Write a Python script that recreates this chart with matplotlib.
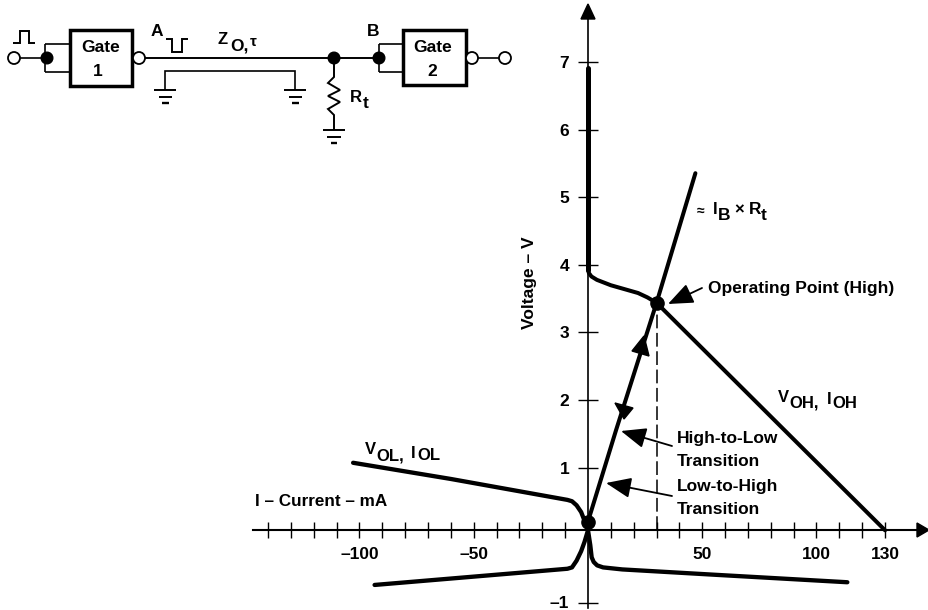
import numpy as np
import matplotlib
matplotlib.use('Agg')
import matplotlib.pyplot as plt
from matplotlib.patches import Circle, Rectangle, Polygon

plt.rcParams['font.family'] = ['Liberation Sans', 'DejaVu Sans']
plt.rcParams['font.weight'] = 'bold'

# curves, current in mA, voltage in V
vol_i = [-102.8, -60, -9, -7, -5, -3, -1.5, 0, 1.0, 1.6, 2.5, 4, 6.6, 15, 56, 113.5]
vol_v = [1.07, 0.83, 0.52, 0.50, 0.44, 0.34, 0.21, 0.07, -0.15, -0.33, -0.40, -0.45, -0.48, -0.51, -0.59, -0.70]
low_i = [-93.4, -9, -7, -5, -3, -1.5, 0, 0]
low_v = [-0.74, -0.50, -0.48, -0.38, -0.24, -0.10, 0.07, 0.2]
voh_i = [0, 0, 0.4, 1.5, 3.9, 10, 21.9, 26, 30, 130]
voh_v = [6.92, 3.93, 3.88, 3.83, 3.78, 3.70, 3.585, 3.52, 3.44, 0.07]
load_i = [0, 12.3, 30, 47]
load_v = [0.2, 1.556, 3.44, 5.36]
op_i, op_v = 30, 3.44
axis_v = 0.07

x_ticks = list(range(-140, 131, 10))
x_labels = {-100: '–100', -50: '–50', 50: '50', 100: '100', 130: '130'}
y_ticks = [-1, 1, 2, 3, 4, 5, 6, 7]
y_labels = ['–1', '1', '2', '3', '4', '5', '6', '7']

W, H = 929, 610
fig = plt.figure(figsize=(9.29, 6.1), dpi=100)

# chart axes fill the figure, scale 2.285 px/mA and 67.5 px/V
ax = fig.add_axes([0, 0, 1, 1])
ax.patch.set_alpha(0)
ax.set_xlim(-588 / 2.285, (W - 588) / 2.285)
ax.set_ylim((535 - H) / 67.5, 535 / 67.5)
for s in ['top', 'right']:
    ax.spines[s].set_visible(False)
ax.spines['left'].set_position(('data', 0))
ax.spines['bottom'].set_position(('data', axis_v))
ax.spines['left'].set_bounds((535 - 608) / 67.5, (535 - 15) / 67.5)
ax.spines['bottom'].set_bounds((253 - 588) / 2.285, (920 - 588) / 2.285)
ax.spines['left'].set_linewidth(1.2)
ax.spines['bottom'].set_linewidth(1.5)
ax.set_xticks(x_ticks)
ax.set_xticklabels([x_labels.get(t, '') for t in x_ticks])
ax.set_yticks(y_ticks)
ax.set_yticklabels(y_labels)
ax.tick_params(axis='x', direction='inout', length=11.5, width=1.0, pad=6, labelsize=12.5)
ax.tick_params(axis='y', direction='inout', length=15, width=1.0, pad=6, labelsize=12.5)

ax.plot(vol_i, vol_v, color='black', lw=3.1, solid_capstyle='round', solid_joinstyle='round')
ax.plot(low_i, low_v, color='black', lw=3.1, solid_capstyle='round', solid_joinstyle='round')
ax.plot(voh_i[:2], voh_v[:2], color='black', lw=3.6, solid_capstyle='round')
ax.plot(voh_i[1:], voh_v[1:], color='black', lw=2.9, solid_capstyle='round', solid_joinstyle='round')
ax.plot(load_i, load_v, color='black', lw=2.9, solid_capstyle='round')
ax.plot([op_i, op_i], [axis_v, op_v], color='black', lw=1.1, dashes=(9, 3))
ax.plot([op_i, 0], [op_v, 0.2], ls='none', marker='o', ms=9.5, color='black')

# overlay in pixels for schematic and notes
ov = fig.add_axes([0, 0, 1, 1])
ov.set_xlim(0, W)
ov.set_ylim(H, 0)
ov.axis('off')


def line(xs, ys, lw=1.2):
    ov.plot(xs, ys, color='black', lw=lw, solid_capstyle='butt', solid_joinstyle='miter')


def bubble(x, y):
    ov.add_patch(Circle((x, y), 6, fc='white', ec='black', lw=1.3, zorder=4))


def dot(x, y):
    ov.add_patch(Circle((x, y), 5.8, fc='black', ec='black', zorder=4))


def ground(x, y, w=11):
    line([x - w, x + w], [y, y], 1.4)
    line([x - w * 0.6, x + w * 0.6], [y + 7, y + 7], 1.4)
    line([x - w * 0.3, x + w * 0.3], [y + 13, y + 13], 1.7)


def label(x, y, s, size=12.5, **kw):
    ov.text(x, y, s, fontsize=size, va='center', ha=kw.pop('ha', 'left'), **kw)


def note(x0, y0, x1, y1):
    ov.annotate('', xy=(x1, y1), xytext=(x0, y0),
                arrowprops=dict(arrowstyle='-|>,head_length=1.1,head_width=0.45', color='black',
                                lw=1.3, shrinkA=0, shrinkB=0, mutation_scale=14))


# arrow tips of the axes
ov.add_patch(Polygon([[929, 530], [917, 523], [917, 537]], fc='black', ec='black'))
ov.add_patch(Polygon([[588, 4], [581, 19], [595, 19]], fc='black', ec='black'))

# direction heads on the load line
ov.add_patch(Polygon([[644, 336], [632, 351], [649, 356]], fc='black', ec='black'))
ov.add_patch(Polygon([[624, 419], [615, 403], [633, 408]], fc='black', ec='black'))

# schematic
line([14, 47], [58, 58])
line([45, 70], [44, 44])
line([45, 45], [44, 72])
line([45, 70], [72, 72])
ov.add_patch(Rectangle((70, 30), 62, 56, fc='white', ec='black', lw=2.5, zorder=3))
bubble(14, 58)
dot(47, 58)
bubble(139, 58)
line([145, 379], [58, 58], 1.4)
line([379, 403], [44, 44])
line([379, 379], [44, 72])
line([379, 403], [72, 72])
ov.add_patch(Rectangle((403, 30), 63, 55, fc='white', ec='black', lw=2.5, zorder=3))
dot(334, 58)
dot(379, 58)
bubble(472, 58)
line([478, 500], [58, 58])
bubble(505, 58)
line([165.5, 165.5, 295.5, 295.5], [90, 71, 71, 90])
ground(165.5, 90)
ground(295.5, 90)
line([334, 334, 328, 340, 328, 340, 328, 334, 334],
     [58, 77, 83, 90, 96, 102, 109, 115, 130], 1.4)
ground(334, 130)
line([13.5, 19.6, 19.6, 29, 29, 35], [43, 43, 31, 31, 43, 43], 1.4)
line([166, 172, 172, 182, 182, 188], [39, 39, 52, 52, 39, 39], 1.4)

label(101, 47, 'Gate', ha='center', zorder=5)
label(98, 71, '1', ha='center', zorder=5)
label(433, 47, 'Gate', ha='center', zorder=5)
label(432, 71, '2', ha='center', zorder=5)
label(151, 32, 'A')
label(367, 32, 'B')
label(218, 39, 'Z', size=12)
label(230, 46, 'O,', size=12.5)
label(250, 42, 'τ', size=11)
label(350, 97, 'R', size=12)
label(363, 104, 't', size=12.5)

# notes
ov.text(530, 283, 'Voltage – V', fontsize=12.5, rotation=90, va='center', ha='center')
label(255, 502, 'I – Current – mA', size=12.3)
label(365, 450, 'V', size=12)
label(376, 456, 'OL,', size=12)
label(411, 453, 'I', size=12)
label(417, 456, 'OL', size=12)
label(778, 398, 'V', size=12)
label(789, 403, 'OH,', size=12)
label(827, 400, 'I', size=12)
label(832, 404, 'OH', size=12)
label(697, 211, '≈', size=10)
label(713, 210, 'I', size=12)
label(718, 215, 'B', size=12.5)
label(734, 210, '×', size=12)
label(749, 210, 'R', size=12.5)
label(761, 215, 't', size=12.5)
label(708, 288, 'Operating Point (High)', size=12.5)
label(677, 439, 'High-to-Low', size=12.5)
label(677, 461, 'Transition', size=12.5)
label(677, 487, 'Low-to-High', size=12.5)
label(677, 510, 'Transition', size=12.5)
note(702, 288, 668, 304)
note(672, 446, 621, 431)
note(672, 496, 606, 483)

fig.savefig('out.png', dpi=100, facecolor='white')
